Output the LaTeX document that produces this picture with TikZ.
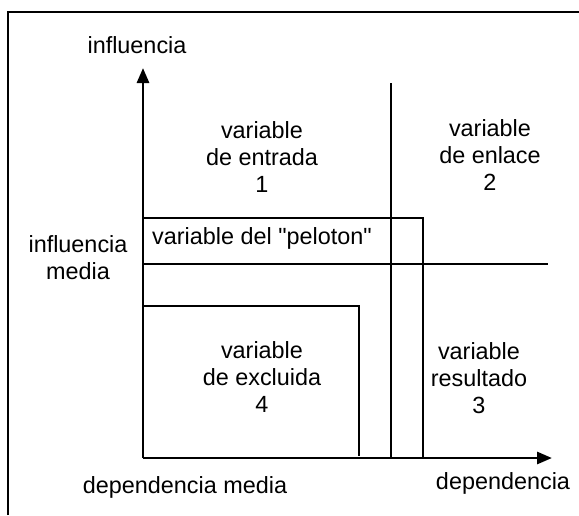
\documentclass[tikz,border=0pt]{standalone}
\usepackage{fontspec}
\setmainfont{Liberation Sans}[Ligatures=TeXOff]
\usetikzlibrary{arrows.meta}

\begin{document}
\begin{tikzpicture}[x=0.5pt,y=-0.5pt,line width=1.4pt,
  every node/.style={font=\fontsize{11.7}{13.5}\selectfont,align=center},
  axis/.style={-{Triangle[length=7.5pt,width=6pt]}}]
\useasboundingbox (0,0) rectangle (579,515);
\draw (8,515) -- (8,12) -- (579,12);
\coordinate (O) at (143,458);
\coordinate (ytop) at (143,68);
\coordinate (xend) at (552,458);
\draw [axis] (O) -- (ytop);
\draw [axis] (O) -- (xend);
\draw (143,218) -- (423,218) -- (423,458);
\draw (143,264) -- (548,264);
\draw (391,83) -- (391,458);
\draw (143,306) -- (359,306) -- (359,456);
\node (ylab) at (137,45) {influencia};
\node (xlab) at (503,483) {dependencia};
\node (ymid) at (78,258) {influencia\\media};
\node (xmid) at (185,487) {dependencia media};
\node (entrada) at (262,157) {variable\\de entrada\\1};
\node (enlace) at (490,155) {variable\\de enlace\\2};
\node (peloton) at (262,238) {variable del "peloton"};
\node (excluida) at (262,377) {variable\\de excluida\\4};
\node (resultado) at (479,378) {variable\\resultado\\3};
\end{tikzpicture}
\end{document}
